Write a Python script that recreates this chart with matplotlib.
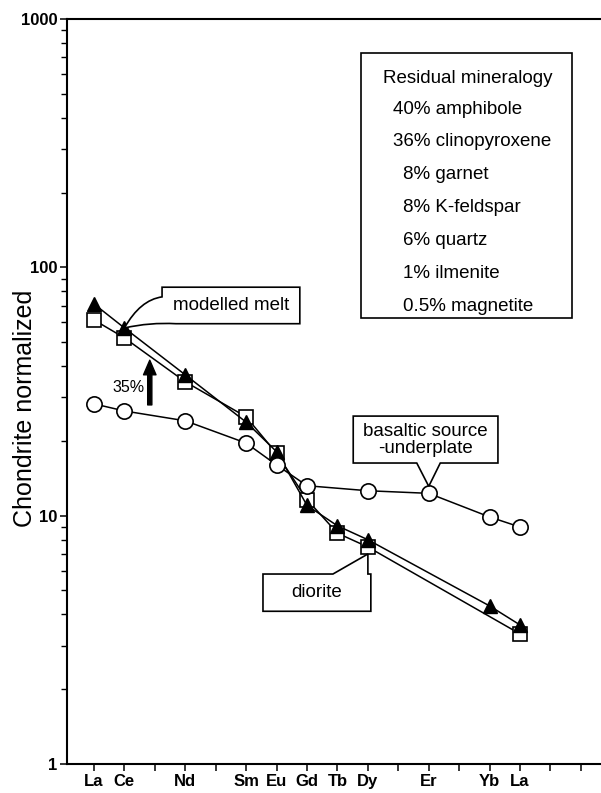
import matplotlib
matplotlib.use('Agg')
import matplotlib.pyplot as plt
from matplotlib.path import Path
from matplotlib.patches import PathPatch, Rectangle
from matplotlib.ticker import FixedLocator, LogLocator, NullFormatter

plt.rcParams['font.family'] = ['Liberation Sans', 'DejaVu Sans']

# REE in atomic order, plotted at 1..15
ree_order = ['La', 'Ce', 'Pr', 'Nd', 'Pm', 'Sm', 'Eu', 'Gd', 'Tb', 'Dy', 'Ho', 'Er', 'Tm', 'Yb', 'Lu']
tick_labels = ['La', 'Ce', '', 'Nd', '', 'Sm', 'Eu', 'Gd', 'Tb', 'Dy', '', 'Er', '', 'Yb', 'La', '', '']

# modelled melt (35% melting of the underplate)
melt_elems = ['La', 'Ce', 'Nd', 'Sm', 'Eu', 'Gd', 'Tb', 'Dy', 'Yb', 'Lu']
melt_vals = [71.2, 57.0, 36.9, 23.8, 18.1, 11.0, 9.1, 8.0, 4.33, 3.63]

# diorite
diorite_elems = ['La', 'Ce', 'Nd', 'Sm', 'Eu', 'Gd', 'Tb', 'Dy', 'Lu']
diorite_vals = [61.4, 52.0, 34.6, 25.0, 17.8, 11.6, 8.5, 7.48, 3.34]

# basaltic source / underplate
basalt_elems = ['La', 'Ce', 'Nd', 'Sm', 'Eu', 'Gd', 'Dy', 'Er', 'Yb', 'Lu']
basalt_vals = [28.2, 26.4, 24.1, 19.6, 16.0, 13.2, 12.6, 12.3, 9.88, 9.0]

residual_title = 'Residual mineralogy'
residual_lines = ['40% amphibole', '36% clinopyroxene', '8% garnet', '8% K-feldspar',
                  '6% quartz', '1% ilmenite', '0.5% magnetite']


def pos(elems):
    return [ree_order.index(e) + 1 for e in elems]


W, H = 601, 793
fig = plt.figure(figsize=(W / 100, H / 100), dpi=100)
ax = fig.add_axes([67 / W, 29 / H, 534 / W, 745 / H])

ax.plot(pos(diorite_elems), diorite_vals, color='black', lw=1.1, marker='s', ms=9.5,
        mfc='white', mec='black', mew=1.2, zorder=3)
ax.plot(pos(melt_elems), melt_vals, color='black', lw=1.1, marker='^', ms=10,
        mfc='black', mec='black', mew=1.0, zorder=4)
ax.plot(pos(basalt_elems), basalt_vals, color='black', lw=1.1, marker='o', ms=11,
        mfc='white', mec='black', mew=1.2, zorder=5)

ax.set_yscale('log')
ax.set_ylim(1, 1000)
ax.set_xlim(0.113, 17.66)

ax.xaxis.set_major_locator(FixedLocator(range(1, len(tick_labels) + 1)))
ax.set_xticklabels(tick_labels)
ax.yaxis.set_major_locator(FixedLocator([1, 10, 100, 1000]))
ax.set_yticklabels(['1', '10', '100', '1000'])
ax.yaxis.set_minor_locator(LogLocator(base=10, subs=range(2, 10)))
ax.yaxis.set_minor_formatter(NullFormatter())

ax.tick_params(axis='both', which='major', direction='out', length=5, width=1.1,
               labelsize=12, pad=2)
ax.tick_params(axis='y', which='minor', direction='out', length=4, width=1.0)
for lab in ax.get_xticklabels() + ax.get_yticklabels():
    lab.set_fontweight('bold')

ax.spines['right'].set_visible(False)
for s in ['left', 'bottom', 'top']:
    ax.spines[s].set_linewidth(1.5)

ax.set_ylabel('Chondrite normalized', fontsize=18)
ax.yaxis.set_label_coords(-0.057, 0.477)


def to_axes(x, y, dy_px=0):
    """Data point -> axes fraction, optionally shifted vertically in pixels."""
    px, py = ax.transData.transform((x, y))
    return tuple(ax.transAxes.inverted().transform((px, py + dy_px)))


box_kw = dict(facecolor='white', edgecolor='black', lw=1.2, transform=ax.transAxes,
              clip_on=False, zorder=6)
text_kw = dict(fontsize=13.5, transform=ax.transAxes, zorder=7)

# "modelled melt" callout, curved pointer to the Ce point
tip = to_axes(pos(['Ce'])[0], melt_vals[melt_elems.index('Ce')])
verts = [(0.178, 0.640), (0.436, 0.640), (0.436, 0.591), (0.204, 0.591),
         (0.155, 0.593), tip, (0.137, 0.623), (0.178, 0.627), (0.178, 0.640)]
codes = [Path.MOVETO, Path.LINETO, Path.LINETO, Path.LINETO,
         Path.CURVE3, Path.CURVE3, Path.CURVE3, Path.CURVE3, Path.CLOSEPOLY]
ax.add_patch(PathPatch(Path(verts, codes), **box_kw))
ax.text(0.307, 0.6155, 'modelled melt', ha='center', va='center', **text_kw)

# "basaltic source -underplate" callout pointing down to Er
tip = to_axes(pos(['Er'])[0], basalt_vals[basalt_elems.index('Er')], dy_px=7)
verts = [(0.536, 0.467), (0.807, 0.467), (0.807, 0.404), (0.699, 0.404), tip,
         (0.655, 0.404), (0.536, 0.404), (0.536, 0.467)]
codes = [Path.MOVETO] + [Path.LINETO] * 6 + [Path.CLOSEPOLY]
ax.add_patch(PathPatch(Path(verts, codes), **box_kw))
ax.text(0.6715, 0.4355, 'basaltic source\n-underplate', ha='center', va='center',
        linespacing=1.0, **text_kw)

# "diorite" callout pointing up to Dy
tip = to_axes(pos(['Dy'])[0], diorite_vals[diorite_elems.index('Dy')], dy_px=-7)
verts = [(0.367, 0.255), (0.498, 0.255), tip, (tip[0], 0.255), (0.569, 0.255),
         (0.569, 0.205), (0.367, 0.205), (0.367, 0.255)]
codes = [Path.MOVETO] + [Path.LINETO] * 6 + [Path.CLOSEPOLY]
ax.add_patch(PathPatch(Path(verts, codes), **box_kw))
ax.text(0.468, 0.230, 'diorite', ha='center', va='center', **text_kw)

# residual mineralogy box
ax.add_patch(Rectangle((0.551, 0.599), 0.395, 0.355, **box_kw))
ax.text(0.592, 0.920, residual_title, ha='left', va='center', **text_kw)
for i, line in enumerate(residual_lines):
    x = 0.610 if line[1].isdigit() else 0.629
    y = 0.879 - i * 0.0441
    ax.text(x, y, line, ha='left', va='center', **text_kw)

# 35% melting arrow
ax.annotate('', xy=(0.155, 0.542), xytext=(0.155, 0.482), xycoords='axes fraction',
            arrowprops=dict(arrowstyle='simple,head_length=0.7,head_width=0.6,tail_width=0.2',
                            fc='black', ec='black', mutation_scale=15, shrinkA=0, shrinkB=0))
ax.text(0.116, 0.505, '35%', ha='center', va='center', fontsize=11.5,
        transform=ax.transAxes)

fig.savefig('out.png', dpi=100)
